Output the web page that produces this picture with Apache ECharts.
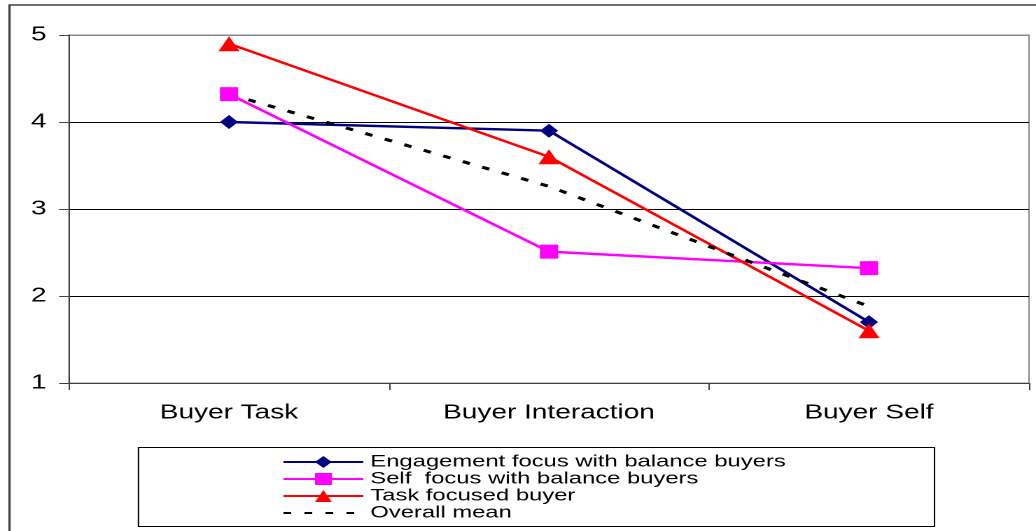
<!DOCTYPE html>
<html>
<head>
<meta charset="utf-8">
<script src="https://cdn.jsdelivr.net/npm/echarts@6/dist/echarts.min.js"></script>
<style>
html,body{margin:0;padding:0;background:#fff;overflow:hidden;}
#wrap{width:1036px;height:531px;overflow:hidden;}
#chart{width:740px;height:531px;transform:scaleX(1.4);transform-origin:0 0;}
</style>
</head>
<body>
<div id="wrap"><div id="chart"></div></div>
<script>
const categories = ['Buyer Task', 'Buyer Interaction', 'Buyer Self'];
const yTicks = [1, 2, 3, 4, 5];
const engagement = [4.0, 3.9, 1.7];
const selfFocus = [4.32, 2.51, 2.32];
const taskFocused = [4.9, 3.6, 1.6];
const overallMean = [4.32, 3.26, 1.88];
const seriesNames = ['Engagement focus with balance buyers', 'Self  focus with balance buyers', 'Task focused buyer', 'Overall mean'];

// The reference image is stretched horizontally by ~1.4; the chart is drawn at 740px wide and scaled.
const chart = echarts.init(document.getElementById('chart'), null, {renderer: 'canvas', devicePixelRatio: 2});
const font = 'Liberation Sans, Arial, sans-serif';
chart.setOption({
  animation: false,
  backgroundColor: '#fff',
  grid: {left: 49.3, right: 5, top: 35, bottom: 148, show: true, borderColor: '#888', borderWidth: 1, backgroundColor: 'transparent'},
  graphic: [
    {type: 'rect', shape: {x: 6.8, y: 5, width: 800, height: 600}, style: {fill: 'none', stroke: '#404040', lineWidth: 1.6}, silent: true, z: -1},
    {type: 'rect', shape: {x: 98.9, y: 447.5, width: 568.6, height: 79}, style: {fill: 'none', stroke: '#000', lineWidth: 1}, silent: true}
  ],
  legend: {
    orient: 'vertical', left: 201.5, top: 453.5, padding: 0,
    itemWidth: 57, itemHeight: 15, itemGap: 0,
    textStyle: {fontFamily: font, fontSize: 17, color: '#000', lineHeight: 15},
    data: [
      {name: seriesNames[0]},
      {name: seriesNames[1]},
      {name: seriesNames[2]},
      {name: seriesNames[3], itemStyle: {opacity: 0, color: 'rgba(0,0,0,0)', borderWidth: 0}}
    ]
  },
  xAxis: {
    type: 'category', data: categories, boundaryGap: true,
    axisLine: {lineStyle: {color: '#404040', width: 1}},
    axisTick: {show: true, length: 7, lineStyle: {color: '#404040'}},
    axisLabel: {fontFamily: font, fontSize: 20, color: '#000', margin: 20},
    splitLine: {show: false}
  },
  yAxis: {
    type: 'value', min: yTicks[0], max: yTicks[yTicks.length - 1], interval: 1,
    axisLine: {show: true, lineStyle: {color: '#404040', width: 1}},
    axisTick: {show: true, length: 7, lineStyle: {color: '#404040'}},
    axisLabel: {fontFamily: font, fontSize: 20, color: '#000', margin: 16},
    splitLine: {show: true, lineStyle: {color: ['#000', '#000', '#000', '#000', '#888'], width: 1}}
  },
  series: [
    {name: seriesNames[0], type: 'line', data: engagement, color: '#000080',
     symbol: 'diamond', symbolSize: [13, 14], lineStyle: {width: 2.4, color: '#000080'}, itemStyle: {color: '#000080'}},
    {name: seriesNames[1], type: 'line', data: selfFocus, color: '#FF00FF',
     symbol: 'rect', symbolSize: [13, 14], lineStyle: {width: 2.4, color: '#FF00FF'}, itemStyle: {color: '#FF00FF'}},
    {name: seriesNames[2], type: 'line', data: taskFocused, color: '#FF0000',
     symbol: 'triangle', symbolSize: [15, 15], lineStyle: {width: 2.4, color: '#FF0000'}, itemStyle: {color: '#FF0000'}},
    {name: seriesNames[3], type: 'line', data: overallMean, color: '#000',
     symbol: 'none', lineStyle: {width: 3, color: '#000', type: [5.5, 9.5]}, itemStyle: {color: '#000'}}
  ]
});
</script>
</body>
</html>
